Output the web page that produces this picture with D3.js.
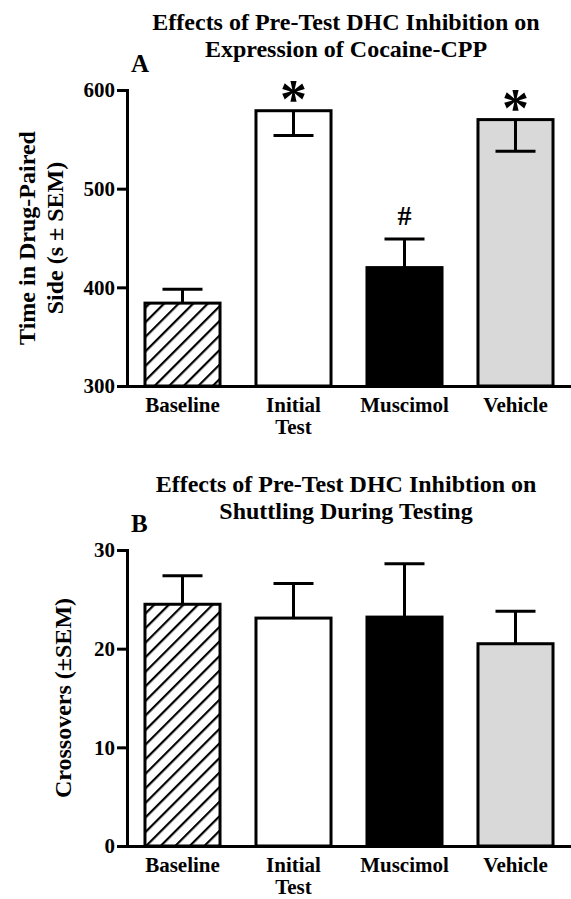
<!DOCTYPE html>
<html lang="en">
<head>
  <meta charset="UTF-8">
  <title>DHC Inhibition</title>
  <script src="https://d3js.org/d3.v7.min.js"></script>
  <style>
    body { margin: 0; background: #fff; }
    text { font-family: "Liberation Serif", "Times New Roman", serif; font-weight: bold; fill: #000; }
  </style>
</head>
<body>
  <div id="chart"></div>
  <script>
    // data
    const groups = ["Baseline", "Initial Test", "Muscimol", "Vehicle"];
    const cppMean = [384, 579, 420, 570];
    const cppSem = [14, 25, 29, 32];
    const cppErrDir = ["up", "down", "up", "down"];
    const cppMarks = ["", "*", "#", "*"];
    const cppTicks = [300, 400, 500, 600];
    const crossMean = [24.5, 23.1, 23.2, 20.5];
    const crossSem = [2.9, 3.5, 5.4, 3.3];
    const crossErrDir = ["up", "up", "up", "up"];
    const crossMarks = ["", "", "", ""];
    const crossTicks = [0, 10, 20, 30];

    const width = 571, height = 899;
    const svg = d3.select("#chart").append("svg")
      .attr("width", width)
      .attr("height", height);

    // hatch for the baseline bar
    svg.append("defs").append("pattern")
      .attr("id", "hatch")
      .attr("patternUnits", "userSpaceOnUse")
      .attr("width", 10.3)
      .attr("height", 10.3)
      .attr("patternTransform", "rotate(45)")
      .append("line")
      .attr("x1", 0).attr("y1", -2)
      .attr("x2", 0).attr("y2", 13)
      .attr("stroke", "#000")
      .attr("stroke-width", 4.4);

    const fills = ["url(#hatch)", "#ffffff", "#000000", "#d9d9d9"];

    const xScale = d3.scaleBand()
      .domain(groups)
      .range([127, 571])
      .paddingInner(0.324)
      .paddingOuter(0.162);

    function drawPanel(opt) {
      const data = groups.map((g, i) => ({
        group: g, mean: opt.mean[i], sem: opt.sem[i],
        dir: opt.dir[i], mark: opt.marks[i], fill: fills[i]
      }));

      const yScale = d3.scaleLinear()
        .domain(opt.domain)
        .range([opt.bottom, opt.top]);

      const panel = svg.append("g");

      // titles
      panel.selectAll(".title")
        .data(opt.title)
        .enter()
        .append("text")
        .attr("x", 346)
        .attr("y", (d, i) => opt.titleY + i * 27)
        .attr("text-anchor", "middle")
        .attr("font-size", "24px")
        .text(d => d);

      panel.append("text")
        .attr("x", 131)
        .attr("y", opt.top - 18)
        .attr("font-size", "25px")
        .text(opt.letter);

      // y label
      panel.selectAll(".ylab")
        .data(opt.ylabel)
        .enter()
        .append("text")
        .attr("transform", (d, i) => `translate(${opt.ylabelX[i]}, ${(opt.top + opt.bottom) / 2}) rotate(-90)`)
        .attr("text-anchor", "middle")
        .attr("font-size", "24px")
        .text(d => d);

      // bars
      panel.selectAll(".bar")
        .data(data)
        .enter()
        .append("rect")
        .attr("x", d => xScale(d.group))
        .attr("y", d => yScale(d.mean))
        .attr("width", xScale.bandwidth())
        .attr("height", d => yScale(opt.domain[0]) - yScale(d.mean))
        .attr("fill", d => d.fill)
        .attr("stroke", "#000")
        .attr("stroke-width", 3);

      // error bars
      const cap = 20;
      const err = panel.selectAll(".err")
        .data(data)
        .enter()
        .append("g")
        .attr("stroke", "#000")
        .attr("stroke-width", 3);
      err.append("line")
        .attr("x1", d => xScale(d.group) + xScale.bandwidth() / 2)
        .attr("x2", d => xScale(d.group) + xScale.bandwidth() / 2)
        .attr("y1", d => yScale(d.mean))
        .attr("y2", d => yScale(d.dir === "up" ? d.mean + d.sem : d.mean - d.sem));
      err.append("line")
        .attr("x1", d => xScale(d.group) + xScale.bandwidth() / 2 - cap)
        .attr("x2", d => xScale(d.group) + xScale.bandwidth() / 2 + cap)
        .attr("y1", d => yScale(d.dir === "up" ? d.mean + d.sem : d.mean - d.sem))
        .attr("y2", d => yScale(d.dir === "up" ? d.mean + d.sem : d.mean - d.sem));

      // significance marks
      panel.selectAll(".mark")
        .data(data.filter(d => d.mark))
        .enter()
        .append("text")
        .attr("x", d => xScale(d.group) + xScale.bandwidth() / 2)
        .attr("y", d => d.mark === "*" ? yScale(d.mean) + 6 : yScale(d.mean + d.sem) - 14)
        .attr("text-anchor", "middle")
        .attr("font-size", d => d.mark === "*" ? "54px" : "28px")
        .text(d => d.mark);

      // axes
      const yAxis = panel.append("g")
        .attr("transform", "translate(127, 0)")
        .call(d3.axisLeft(yScale).tickValues(opt.ticks).tickSize(10).tickSizeOuter(0).tickPadding(2));
      yAxis.selectAll("text").attr("font-size", "21px").attr("font-family", null);
      yAxis.selectAll("line").attr("stroke-width", 3);
      yAxis.select(".domain").attr("stroke-width", 3).attr("stroke-linecap", "square");

      const xAxis = panel.append("g")
        .attr("transform", `translate(0, ${opt.bottom})`)
        .call(d3.axisBottom(xScale).tickSize(0).tickSizeOuter(0));
      xAxis.select(".domain").attr("stroke-width", 3);
      xAxis.selectAll(".tick text").each(function (d) {
        const t = d3.select(this);
        t.text(null).attr("y", 26).attr("dy", null)
          .attr("font-size", "21px").attr("font-family", null);
        d.split(" ").forEach((line, i) => {
          t.append("tspan").attr("x", 0).attr("dy", i ? 22 : 0).text(line);
        });
      });
    }

    drawPanel({
      mean: cppMean, sem: cppSem, dir: cppErrDir, marks: cppMarks,
      domain: [300, 600], ticks: cppTicks, top: 90, bottom: 386,
      title: ["Effects of Pre-Test DHC Inhibition on", "Expression of Cocaine-CPP"],
      titleY: 30, letter: "A",
      ylabel: ["Time in Drug-Paired", "Side (s \u00b1 SEM)"], ylabelX: [35, 63]
    });

    drawPanel({
      mean: crossMean, sem: crossSem, dir: crossErrDir, marks: crossMarks,
      domain: [0, 30], ticks: crossTicks, top: 550, bottom: 846,
      title: ["Effects of Pre-Test DHC Inhibtion on", "Shuttling During Testing"],
      titleY: 492, letter: "B",
      ylabel: ["Crossovers (\u00b1SEM)"], ylabelX: [71]
    });
  </script>
</body>
</html>
